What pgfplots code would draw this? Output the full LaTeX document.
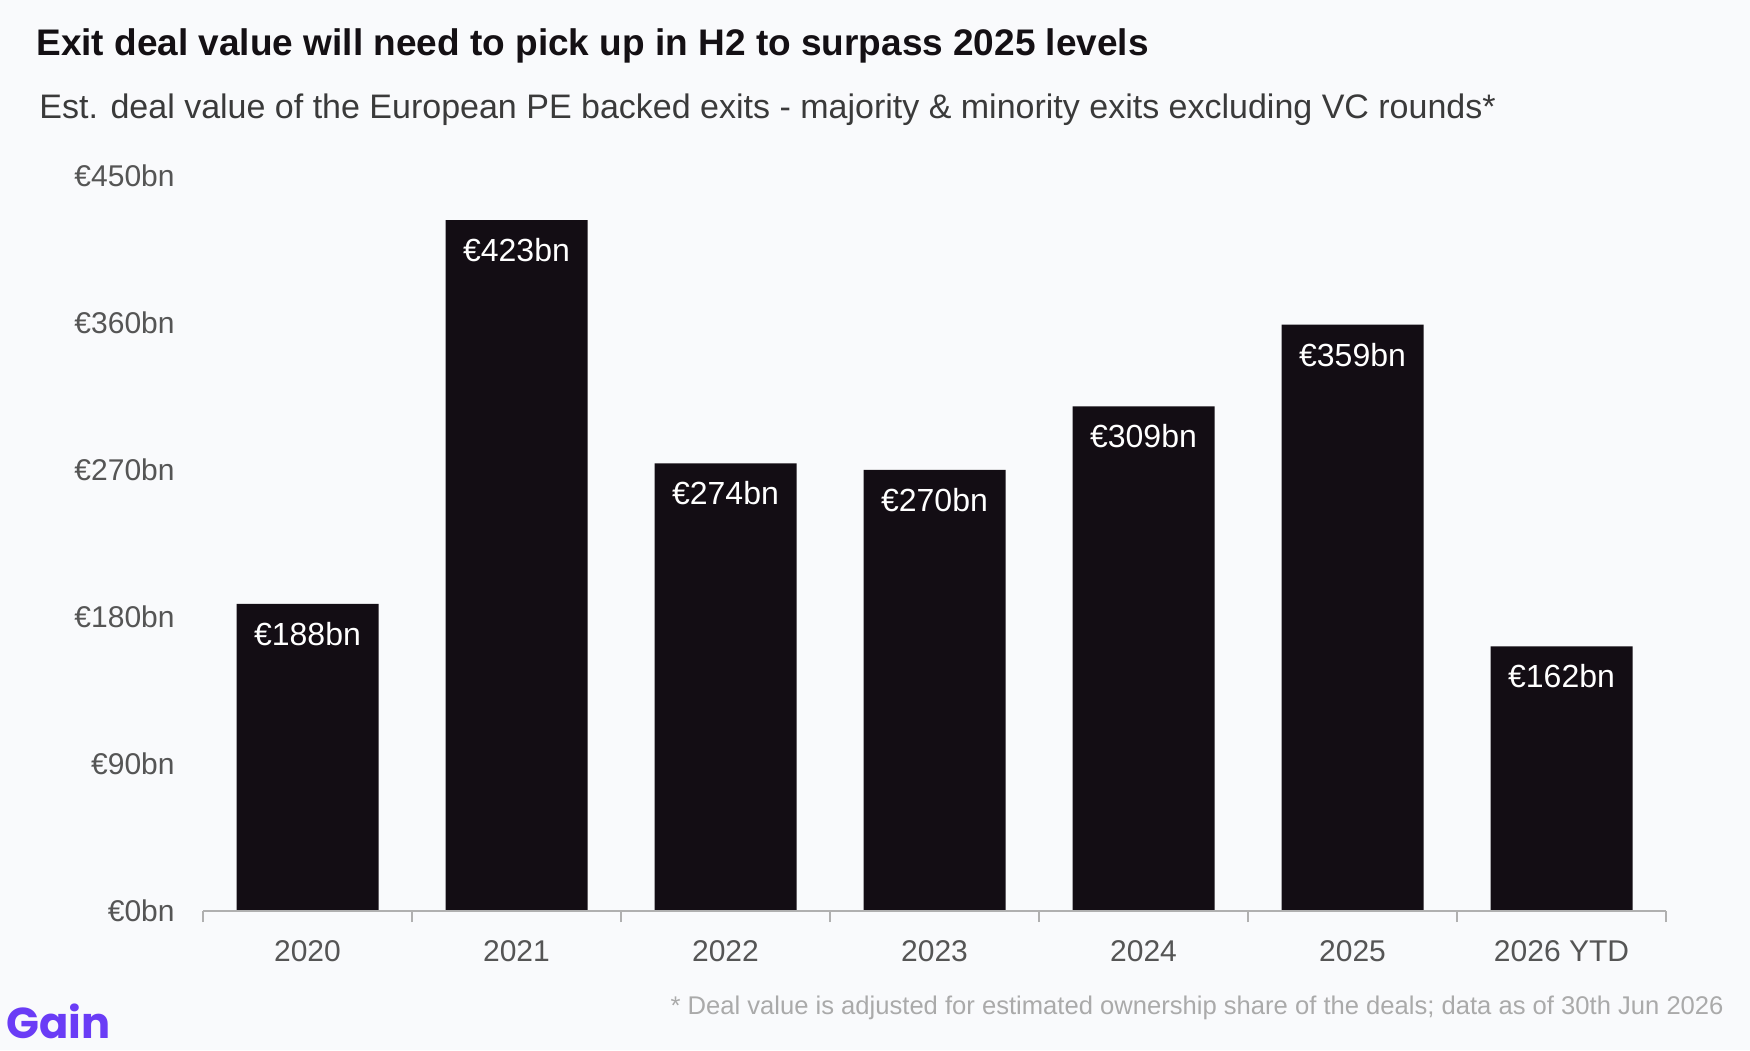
\documentclass[border=0pt]{standalone}
\usepackage{fontspec}
\setmainfont{Liberation Sans}
\newfontfamily\logofont{Poppins}
\usepackage{pgfplots}
\pgfplotsset{compat=1.18}
\definecolor{bg}{RGB}{249,250,252}
\definecolor{barc}{RGB}{19,13,20}
\definecolor{axisc}{RGB}{176,176,176}
\definecolor{tickc}{RGB}{85,85,85}
\definecolor{titlec}{RGB}{20,16,20}
\definecolor{subc}{RGB}{58,58,58}
\definecolor{footc}{RGB}{170,170,170}
\definecolor{gainc}{RGB}{106,60,246}
\begin{document}
\begin{tikzpicture}
\fill[bg] (0,0) rectangle (875pt,525pt);
\begin{axis}[
  at={(101.5pt,69.5pt)}, anchor=south west,
  scale only axis, width=731.5pt, height=367.5pt,
  ymin=0, ymax=450, xmin=-0.5, xmax=6.5,
  ybar, bar width=71pt, bar shift=0pt,
  axis on top,
  /pgf/number format/assume math mode=true,
  axis x line*=bottom, axis y line*=left,
  x axis line style={axisc, line width=1pt},
  y axis line style={draw=none},
  xtick={0,...,6},
  xticklabels={2020,2021,2022,2023,2024,2025,2026 YTD},
  minor xtick={-0.5,0.5,...,6.5},
  major tick length=0pt, minor tick length=5.5pt,
  tick align=outside,
  minor tick style={axisc, line width=1pt},
  ytick={0,90,180,270,360,450},
  yticklabels={€0bn,€90bn,€180bn,€270bn,€360bn,€450bn},
  yticklabel style={anchor=east, inner sep=0pt, xshift=-14pt, font=\fontsize{15}{18}\selectfont, text=tickc},
  xticklabel style={anchor=center, inner sep=0pt, yshift=-20pt, font=\fontsize{15}{18}\selectfont, text=tickc},
  nodes near coords={€\pgfmathprintnumber[assume math mode=true]{\pgfplotspointmeta}bn},
  every node near coord/.append style={anchor=center, yshift=-15pt, text=white, font=\fontsize{16}{19}\selectfont},
]
\addplot[fill=barc, draw=none] coordinates {(0,188) (1,423) (2,274) (3,270) (4,309) (5,359) (6,162)};
\end{axis}
\node[anchor=west, inner sep=0pt, text=titlec, font=\fontsize{18.5}{22}\selectfont\bfseries] at (18pt,502pt) {Exit deal value will need to pick up in H2 to surpass 2025 levels};
\node[anchor=west, inner sep=0pt, text=subc, font=\fontsize{17}{20}\selectfont] at (19.5pt,470pt) {Est. deal value of the European PE backed exits - majority \& minority exits excluding VC rounds*};
\node[anchor=east, inner sep=0pt, text=footc, font=\fontsize{12.8}{15}\selectfont] at (862pt,21pt) {* Deal value is adjusted for estimated ownership share of the deals; data as of 30th Jun 2026};
\node[anchor=base west, inner sep=0pt, text=gainc, font=\fontsize{21.6}{25}\logofont\bfseries] at (3pt,6pt) {Gain};
\pgfresetboundingbox
\useasboundingbox (0,0) rectangle (875pt,525pt);
\end{tikzpicture}
\end{document}
